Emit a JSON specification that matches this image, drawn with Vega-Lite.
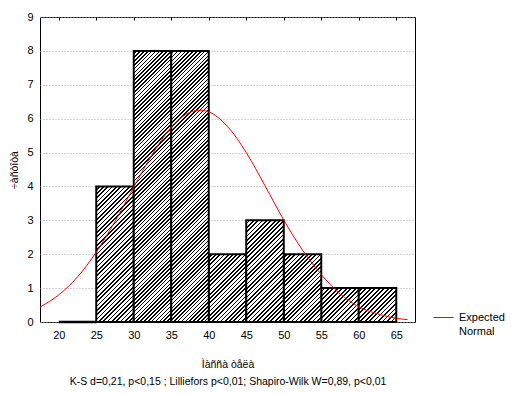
{
"$schema":"https://vega.github.io/schema/vega-lite/v6.json",
"width":375,"height":305,
"autosize":{"type":"none"},
"padding":{"left":40,"top":17,"right":96,"bottom":73},
"background":"white",
"config":{"view":{"stroke":"black","strokeWidth":1},"font":"Liberation Sans",
"axis":{"labelFont":"Liberation Sans","labelFontSize":11,"labelColor":"black","titleFont":"Liberation Sans","titleFontSize":10.5,"titleFontWeight":"normal","titleColor":"black"}},
"datasets":{
"bars":[{"lo":20,"hi":25,"n":0},{"lo":25,"hi":30,"n":4},{"lo":30,"hi":35,"n":8},{"lo":35,"hi":40,"n":8},{"lo":40,"hi":45,"n":2},{"lo":45,"hi":50,"n":3},{"lo":50,"hi":55,"n":2},{"lo":55,"hi":60,"n":1},{"lo":60,"hi":65,"n":1}],
"curve":[{"x":17.5,"y":0.44},{"x":20,"y":0.8},{"x":22.5,"y":1.33},{"x":25,"y":2.06},{"x":27.5,"y":2.97},{"x":30,"y":3.98},{"x":32.5,"y":4.96},{"x":35,"y":5.75},{"x":37.5,"y":6.19},{"x":38.8,"y":6.25},{"x":40,"y":6.2},{"x":42.5,"y":5.77},{"x":45,"y":5.0},{"x":47.5,"y":4.02},{"x":50,"y":3.01},{"x":52.5,"y":2.12},{"x":55,"y":1.4},{"x":57.5,"y":0.83},{"x":60,"y":0.45},{"x":62.5,"y":0.24},{"x":65,"y":0.11},{"x":66.5,"y":0.07}]
},
"resolve":{"axis":{"x":"independent"}},
"layer":[
{"data":{"name":"bars"},"transform":[{"filter":"datum.n == 0"}],
"mark":{"type":"bar","fill":"white","stroke":"black","strokeWidth":2.5},
"encoding":{
"x":{"field":"lo","type":"quantitative","scale":{"domain":[17.5,67.5],"nice":false,"zero":false},
"axis":{"orient":"bottom","values":[20,25,30,35,40,45,50,55,60,65],"ticks":false,"domain":false,"grid":false,"labelPadding":7,"title":["Ìàññà òåëà","K-S d=0,21, p<0,15 ; Lilliefors p<0,01; Shapiro-Wilk W=0,89, p<0,01"],"titleLineHeight":17,"titlePadding":19}},
"x2":{"field":"hi"},
"y":{"field":"n","type":"quantitative","scale":{"domain":[0,9],"nice":false},
"axis":{"orient":"left","values":[0,1,2,3,4,5,6,7,8,9],"grid":true,"gridColor":"#a8a8a8","gridDash":[1,2],"ticks":false,"domain":false,"labelPadding":7,"title":"÷àñòîòà","titlePadding":7,"titleColor":"black","encode":{"title":{"update":{"fill":{"value":"#000000"}}}}}},
"y2":{"datum":0}}},
{"data":{"name":"bars"},"transform":[{"filter":"datum.n == 1"}],
"mark":{"type":"bar","stroke":"black","strokeWidth":2,"fill":{"gradient":"linear","x1":0,"y1":0,"x2":1.0479,"y2":0.94699,"stops":[
{"offset":0,"color":"#fff"},{"offset":0.0375,"color":"#fff"},{"offset":0.0375,"color":"#000"},{"offset":0.0625,"color":"#000"},
{"offset":0.0625,"color":"#fff"},{"offset":0.1,"color":"#fff"},{"offset":0.1,"color":"#000"},{"offset":0.125,"color":"#000"},
{"offset":0.125,"color":"#fff"},{"offset":0.1625,"color":"#fff"},{"offset":0.1625,"color":"#000"},{"offset":0.1875,"color":"#000"},
{"offset":0.1875,"color":"#fff"},{"offset":0.225,"color":"#fff"},{"offset":0.225,"color":"#000"},{"offset":0.25,"color":"#000"},
{"offset":0.25,"color":"#fff"},{"offset":0.2875,"color":"#fff"},{"offset":0.2875,"color":"#000"},{"offset":0.3125,"color":"#000"},
{"offset":0.3125,"color":"#fff"},{"offset":0.35,"color":"#fff"},{"offset":0.35,"color":"#000"},{"offset":0.375,"color":"#000"},
{"offset":0.375,"color":"#fff"},{"offset":0.4125,"color":"#fff"},{"offset":0.4125,"color":"#000"},{"offset":0.4375,"color":"#000"},
{"offset":0.4375,"color":"#fff"},{"offset":0.475,"color":"#fff"},{"offset":0.475,"color":"#000"},{"offset":0.5,"color":"#000"},
{"offset":0.5,"color":"#fff"},{"offset":0.5375,"color":"#fff"},{"offset":0.5375,"color":"#000"},{"offset":0.5625,"color":"#000"},
{"offset":0.5625,"color":"#fff"},{"offset":0.6,"color":"#fff"},{"offset":0.6,"color":"#000"},{"offset":0.625,"color":"#000"},
{"offset":0.625,"color":"#fff"},{"offset":0.6625,"color":"#fff"},{"offset":0.6625,"color":"#000"},{"offset":0.6875,"color":"#000"},
{"offset":0.6875,"color":"#fff"},{"offset":0.725,"color":"#fff"},{"offset":0.725,"color":"#000"},{"offset":0.75,"color":"#000"},
{"offset":0.75,"color":"#fff"},{"offset":0.7875,"color":"#fff"},{"offset":0.7875,"color":"#000"},{"offset":0.8125,"color":"#000"},
{"offset":0.8125,"color":"#fff"},{"offset":0.85,"color":"#fff"},{"offset":0.85,"color":"#000"},{"offset":0.875,"color":"#000"},
{"offset":0.875,"color":"#fff"},{"offset":0.9125,"color":"#fff"},{"offset":0.9125,"color":"#000"},{"offset":0.9375,"color":"#000"},
{"offset":0.9375,"color":"#fff"},{"offset":0.975,"color":"#fff"},{"offset":0.975,"color":"#000"},{"offset":1,"color":"#000"}]}},
"encoding":{"x":{"field":"lo","type":"quantitative","axis":null},"x2":{"field":"hi"},"y":{"field":"n","type":"quantitative","axis":{"orient":"left","values":[0,1,2,3,4,5,6,7,8,9],"grid":true,"gridColor":"#a8a8a8","gridDash":[1,2],"ticks":false,"domain":false,"labelPadding":7,"title":"÷àñòîòà","titlePadding":7,"titleColor":"black","encode":{"title":{"update":{"fill":{"value":"#000000"}}}}}},"y2":{"datum":0}}},
{"data":{"name":"bars"},"transform":[{"filter":"datum.n == 2"}],
"mark":{"type":"bar","stroke":"black","strokeWidth":2,"fill":{"gradient":"linear","x1":0,"y1":0,"x2":0.657975,"y2":1.18924,"stops":[
{"offset":0,"color":"#fff"},{"offset":0.024,"color":"#fff"},{"offset":0.024,"color":"#000"},{"offset":0.04,"color":"#000"},
{"offset":0.04,"color":"#fff"},{"offset":0.064,"color":"#fff"},{"offset":0.064,"color":"#000"},{"offset":0.08,"color":"#000"},
{"offset":0.08,"color":"#fff"},{"offset":0.104,"color":"#fff"},{"offset":0.104,"color":"#000"},{"offset":0.12,"color":"#000"},
{"offset":0.12,"color":"#fff"},{"offset":0.144,"color":"#fff"},{"offset":0.144,"color":"#000"},{"offset":0.16,"color":"#000"},
{"offset":0.16,"color":"#fff"},{"offset":0.184,"color":"#fff"},{"offset":0.184,"color":"#000"},{"offset":0.2,"color":"#000"},
{"offset":0.2,"color":"#fff"},{"offset":0.224,"color":"#fff"},{"offset":0.224,"color":"#000"},{"offset":0.24,"color":"#000"},
{"offset":0.24,"color":"#fff"},{"offset":0.264,"color":"#fff"},{"offset":0.264,"color":"#000"},{"offset":0.28,"color":"#000"},
{"offset":0.28,"color":"#fff"},{"offset":0.304,"color":"#fff"},{"offset":0.304,"color":"#000"},{"offset":0.32,"color":"#000"},
{"offset":0.32,"color":"#fff"},{"offset":0.344,"color":"#fff"},{"offset":0.344,"color":"#000"},{"offset":0.36,"color":"#000"},
{"offset":0.36,"color":"#fff"},{"offset":0.384,"color":"#fff"},{"offset":0.384,"color":"#000"},{"offset":0.4,"color":"#000"},
{"offset":0.4,"color":"#fff"},{"offset":0.424,"color":"#fff"},{"offset":0.424,"color":"#000"},{"offset":0.44,"color":"#000"},
{"offset":0.44,"color":"#fff"},{"offset":0.464,"color":"#fff"},{"offset":0.464,"color":"#000"},{"offset":0.48,"color":"#000"},
{"offset":0.48,"color":"#fff"},{"offset":0.504,"color":"#fff"},{"offset":0.504,"color":"#000"},{"offset":0.52,"color":"#000"},
{"offset":0.52,"color":"#fff"},{"offset":0.544,"color":"#fff"},{"offset":0.544,"color":"#000"},{"offset":0.56,"color":"#000"},
{"offset":0.56,"color":"#fff"},{"offset":0.584,"color":"#fff"},{"offset":0.584,"color":"#000"},{"offset":0.6,"color":"#000"},
{"offset":0.6,"color":"#fff"},{"offset":0.624,"color":"#fff"},{"offset":0.624,"color":"#000"},{"offset":0.64,"color":"#000"},
{"offset":0.64,"color":"#fff"},{"offset":0.664,"color":"#fff"},{"offset":0.664,"color":"#000"},{"offset":0.68,"color":"#000"},
{"offset":0.68,"color":"#fff"},{"offset":0.704,"color":"#fff"},{"offset":0.704,"color":"#000"},{"offset":0.72,"color":"#000"},
{"offset":0.72,"color":"#fff"},{"offset":0.744,"color":"#fff"},{"offset":0.744,"color":"#000"},{"offset":0.76,"color":"#000"},
{"offset":0.76,"color":"#fff"},{"offset":0.784,"color":"#fff"},{"offset":0.784,"color":"#000"},{"offset":0.8,"color":"#000"},
{"offset":0.8,"color":"#fff"},{"offset":0.824,"color":"#fff"},{"offset":0.824,"color":"#000"},{"offset":0.84,"color":"#000"},
{"offset":0.84,"color":"#fff"},{"offset":0.864,"color":"#fff"},{"offset":0.864,"color":"#000"},{"offset":0.88,"color":"#000"},
{"offset":0.88,"color":"#fff"},{"offset":0.904,"color":"#fff"},{"offset":0.904,"color":"#000"},{"offset":0.92,"color":"#000"},
{"offset":0.92,"color":"#fff"},{"offset":0.944,"color":"#fff"},{"offset":0.944,"color":"#000"},{"offset":0.96,"color":"#000"},
{"offset":0.96,"color":"#fff"},{"offset":0.984,"color":"#fff"},{"offset":0.984,"color":"#000"},{"offset":1,"color":"#000"}]}},
"encoding":{"x":{"field":"lo","type":"quantitative","axis":null},"x2":{"field":"hi"},"y":{"field":"n","type":"quantitative","axis":{"orient":"left","values":[0,1,2,3,4,5,6,7,8,9],"grid":true,"gridColor":"#a8a8a8","gridDash":[1,2],"ticks":false,"domain":false,"labelPadding":7,"title":"÷àñòîòà","titlePadding":7,"titleColor":"black","encode":{"title":{"update":{"fill":{"value":"#000000"}}}}}},"y2":{"datum":0}}},
{"data":{"name":"bars"},"transform":[{"filter":"datum.n == 3"}],
"mark":{"type":"bar","stroke":"black","strokeWidth":2,"fill":{"gradient":"linear","x1":0,"y1":0,"x2":0.444441,"y2":1.204929,"stops":[
{"offset":0,"color":"#fff"},{"offset":0.01875,"color":"#fff"},{"offset":0.01875,"color":"#000"},{"offset":0.03125,"color":"#000"},
{"offset":0.03125,"color":"#fff"},{"offset":0.05,"color":"#fff"},{"offset":0.05,"color":"#000"},{"offset":0.0625,"color":"#000"},
{"offset":0.0625,"color":"#fff"},{"offset":0.08125,"color":"#fff"},{"offset":0.08125,"color":"#000"},{"offset":0.09375,"color":"#000"},
{"offset":0.09375,"color":"#fff"},{"offset":0.1125,"color":"#fff"},{"offset":0.1125,"color":"#000"},{"offset":0.125,"color":"#000"},
{"offset":0.125,"color":"#fff"},{"offset":0.14375,"color":"#fff"},{"offset":0.14375,"color":"#000"},{"offset":0.15625,"color":"#000"},
{"offset":0.15625,"color":"#fff"},{"offset":0.175,"color":"#fff"},{"offset":0.175,"color":"#000"},{"offset":0.1875,"color":"#000"},
{"offset":0.1875,"color":"#fff"},{"offset":0.20625,"color":"#fff"},{"offset":0.20625,"color":"#000"},{"offset":0.21875,"color":"#000"},
{"offset":0.21875,"color":"#fff"},{"offset":0.2375,"color":"#fff"},{"offset":0.2375,"color":"#000"},{"offset":0.25,"color":"#000"},
{"offset":0.25,"color":"#fff"},{"offset":0.26875,"color":"#fff"},{"offset":0.26875,"color":"#000"},{"offset":0.28125,"color":"#000"},
{"offset":0.28125,"color":"#fff"},{"offset":0.3,"color":"#fff"},{"offset":0.3,"color":"#000"},{"offset":0.3125,"color":"#000"},
{"offset":0.3125,"color":"#fff"},{"offset":0.33125,"color":"#fff"},{"offset":0.33125,"color":"#000"},{"offset":0.34375,"color":"#000"},
{"offset":0.34375,"color":"#fff"},{"offset":0.3625,"color":"#fff"},{"offset":0.3625,"color":"#000"},{"offset":0.375,"color":"#000"},
{"offset":0.375,"color":"#fff"},{"offset":0.39375,"color":"#fff"},{"offset":0.39375,"color":"#000"},{"offset":0.40625,"color":"#000"},
{"offset":0.40625,"color":"#fff"},{"offset":0.425,"color":"#fff"},{"offset":0.425,"color":"#000"},{"offset":0.4375,"color":"#000"},
{"offset":0.4375,"color":"#fff"},{"offset":0.45625,"color":"#fff"},{"offset":0.45625,"color":"#000"},{"offset":0.46875,"color":"#000"},
{"offset":0.46875,"color":"#fff"},{"offset":0.4875,"color":"#fff"},{"offset":0.4875,"color":"#000"},{"offset":0.5,"color":"#000"},
{"offset":0.5,"color":"#fff"},{"offset":0.51875,"color":"#fff"},{"offset":0.51875,"color":"#000"},{"offset":0.53125,"color":"#000"},
{"offset":0.53125,"color":"#fff"},{"offset":0.55,"color":"#fff"},{"offset":0.55,"color":"#000"},{"offset":0.5625,"color":"#000"},
{"offset":0.5625,"color":"#fff"},{"offset":0.58125,"color":"#fff"},{"offset":0.58125,"color":"#000"},{"offset":0.59375,"color":"#000"},
{"offset":0.59375,"color":"#fff"},{"offset":0.6125,"color":"#fff"},{"offset":0.6125,"color":"#000"},{"offset":0.625,"color":"#000"},
{"offset":0.625,"color":"#fff"},{"offset":0.64375,"color":"#fff"},{"offset":0.64375,"color":"#000"},{"offset":0.65625,"color":"#000"},
{"offset":0.65625,"color":"#fff"},{"offset":0.675,"color":"#fff"},{"offset":0.675,"color":"#000"},{"offset":0.6875,"color":"#000"},
{"offset":0.6875,"color":"#fff"},{"offset":0.70625,"color":"#fff"},{"offset":0.70625,"color":"#000"},{"offset":0.71875,"color":"#000"},
{"offset":0.71875,"color":"#fff"},{"offset":0.7375,"color":"#fff"},{"offset":0.7375,"color":"#000"},{"offset":0.75,"color":"#000"},
{"offset":0.75,"color":"#fff"},{"offset":0.76875,"color":"#fff"},{"offset":0.76875,"color":"#000"},{"offset":0.78125,"color":"#000"},
{"offset":0.78125,"color":"#fff"},{"offset":0.8,"color":"#fff"},{"offset":0.8,"color":"#000"},{"offset":0.8125,"color":"#000"},
{"offset":0.8125,"color":"#fff"},{"offset":0.83125,"color":"#fff"},{"offset":0.83125,"color":"#000"},{"offset":0.84375,"color":"#000"},
{"offset":0.84375,"color":"#fff"},{"offset":0.8625,"color":"#fff"},{"offset":0.8625,"color":"#000"},{"offset":0.875,"color":"#000"},
{"offset":0.875,"color":"#fff"},{"offset":0.89375,"color":"#fff"},{"offset":0.89375,"color":"#000"},{"offset":0.90625,"color":"#000"},
{"offset":0.90625,"color":"#fff"},{"offset":0.925,"color":"#fff"},{"offset":0.925,"color":"#000"},{"offset":0.9375,"color":"#000"},
{"offset":0.9375,"color":"#fff"},{"offset":0.95625,"color":"#fff"},{"offset":0.95625,"color":"#000"},{"offset":0.96875,"color":"#000"},
{"offset":0.96875,"color":"#fff"},{"offset":0.9875,"color":"#fff"},{"offset":0.9875,"color":"#000"},{"offset":1,"color":"#000"}]}},
"encoding":{"x":{"field":"lo","type":"quantitative","axis":null},"x2":{"field":"hi"},"y":{"field":"n","type":"quantitative","axis":{"orient":"left","values":[0,1,2,3,4,5,6,7,8,9],"grid":true,"gridColor":"#a8a8a8","gridDash":[1,2],"ticks":false,"domain":false,"labelPadding":7,"title":"÷àñòîòà","titlePadding":7,"titleColor":"black","encode":{"title":{"update":{"fill":{"value":"#000000"}}}}}},"y2":{"datum":0}}},
{"data":{"name":"bars"},"transform":[{"filter":"datum.n == 4"}],
"mark":{"type":"bar","stroke":"black","strokeWidth":2,"fill":{"gradient":"linear","x1":0,"y1":0,"x2":0.328062,"y2":1.185883,"stops":[
{"offset":0,"color":"#fff"},{"offset":0.015,"color":"#fff"},{"offset":0.015,"color":"#000"},{"offset":0.025,"color":"#000"},
{"offset":0.025,"color":"#fff"},{"offset":0.04,"color":"#fff"},{"offset":0.04,"color":"#000"},{"offset":0.05,"color":"#000"},
{"offset":0.05,"color":"#fff"},{"offset":0.065,"color":"#fff"},{"offset":0.065,"color":"#000"},{"offset":0.075,"color":"#000"},
{"offset":0.075,"color":"#fff"},{"offset":0.09,"color":"#fff"},{"offset":0.09,"color":"#000"},{"offset":0.1,"color":"#000"},
{"offset":0.1,"color":"#fff"},{"offset":0.115,"color":"#fff"},{"offset":0.115,"color":"#000"},{"offset":0.125,"color":"#000"},
{"offset":0.125,"color":"#fff"},{"offset":0.14,"color":"#fff"},{"offset":0.14,"color":"#000"},{"offset":0.15,"color":"#000"},
{"offset":0.15,"color":"#fff"},{"offset":0.165,"color":"#fff"},{"offset":0.165,"color":"#000"},{"offset":0.175,"color":"#000"},
{"offset":0.175,"color":"#fff"},{"offset":0.19,"color":"#fff"},{"offset":0.19,"color":"#000"},{"offset":0.2,"color":"#000"},
{"offset":0.2,"color":"#fff"},{"offset":0.215,"color":"#fff"},{"offset":0.215,"color":"#000"},{"offset":0.225,"color":"#000"},
{"offset":0.225,"color":"#fff"},{"offset":0.24,"color":"#fff"},{"offset":0.24,"color":"#000"},{"offset":0.25,"color":"#000"},
{"offset":0.25,"color":"#fff"},{"offset":0.265,"color":"#fff"},{"offset":0.265,"color":"#000"},{"offset":0.275,"color":"#000"},
{"offset":0.275,"color":"#fff"},{"offset":0.29,"color":"#fff"},{"offset":0.29,"color":"#000"},{"offset":0.3,"color":"#000"},
{"offset":0.3,"color":"#fff"},{"offset":0.315,"color":"#fff"},{"offset":0.315,"color":"#000"},{"offset":0.325,"color":"#000"},
{"offset":0.325,"color":"#fff"},{"offset":0.34,"color":"#fff"},{"offset":0.34,"color":"#000"},{"offset":0.35,"color":"#000"},
{"offset":0.35,"color":"#fff"},{"offset":0.365,"color":"#fff"},{"offset":0.365,"color":"#000"},{"offset":0.375,"color":"#000"},
{"offset":0.375,"color":"#fff"},{"offset":0.39,"color":"#fff"},{"offset":0.39,"color":"#000"},{"offset":0.4,"color":"#000"},
{"offset":0.4,"color":"#fff"},{"offset":0.415,"color":"#fff"},{"offset":0.415,"color":"#000"},{"offset":0.425,"color":"#000"},
{"offset":0.425,"color":"#fff"},{"offset":0.44,"color":"#fff"},{"offset":0.44,"color":"#000"},{"offset":0.45,"color":"#000"},
{"offset":0.45,"color":"#fff"},{"offset":0.465,"color":"#fff"},{"offset":0.465,"color":"#000"},{"offset":0.475,"color":"#000"},
{"offset":0.475,"color":"#fff"},{"offset":0.49,"color":"#fff"},{"offset":0.49,"color":"#000"},{"offset":0.5,"color":"#000"},
{"offset":0.5,"color":"#fff"},{"offset":0.515,"color":"#fff"},{"offset":0.515,"color":"#000"},{"offset":0.525,"color":"#000"},
{"offset":0.525,"color":"#fff"},{"offset":0.54,"color":"#fff"},{"offset":0.54,"color":"#000"},{"offset":0.55,"color":"#000"},
{"offset":0.55,"color":"#fff"},{"offset":0.565,"color":"#fff"},{"offset":0.565,"color":"#000"},{"offset":0.575,"color":"#000"},
{"offset":0.575,"color":"#fff"},{"offset":0.59,"color":"#fff"},{"offset":0.59,"color":"#000"},{"offset":0.6,"color":"#000"},
{"offset":0.6,"color":"#fff"},{"offset":0.615,"color":"#fff"},{"offset":0.615,"color":"#000"},{"offset":0.625,"color":"#000"},
{"offset":0.625,"color":"#fff"},{"offset":0.64,"color":"#fff"},{"offset":0.64,"color":"#000"},{"offset":0.65,"color":"#000"},
{"offset":0.65,"color":"#fff"},{"offset":0.665,"color":"#fff"},{"offset":0.665,"color":"#000"},{"offset":0.675,"color":"#000"},
{"offset":0.675,"color":"#fff"},{"offset":0.69,"color":"#fff"},{"offset":0.69,"color":"#000"},{"offset":0.7,"color":"#000"},
{"offset":0.7,"color":"#fff"},{"offset":0.715,"color":"#fff"},{"offset":0.715,"color":"#000"},{"offset":0.725,"color":"#000"},
{"offset":0.725,"color":"#fff"},{"offset":0.74,"color":"#fff"},{"offset":0.74,"color":"#000"},{"offset":0.75,"color":"#000"},
{"offset":0.75,"color":"#fff"},{"offset":0.765,"color":"#fff"},{"offset":0.765,"color":"#000"},{"offset":0.775,"color":"#000"},
{"offset":0.775,"color":"#fff"},{"offset":0.79,"color":"#fff"},{"offset":0.79,"color":"#000"},{"offset":0.8,"color":"#000"},
{"offset":0.8,"color":"#fff"},{"offset":0.815,"color":"#fff"},{"offset":0.815,"color":"#000"},{"offset":0.825,"color":"#000"},
{"offset":0.825,"color":"#fff"},{"offset":0.84,"color":"#fff"},{"offset":0.84,"color":"#000"},{"offset":0.85,"color":"#000"},
{"offset":0.85,"color":"#fff"},{"offset":0.865,"color":"#fff"},{"offset":0.865,"color":"#000"},{"offset":0.875,"color":"#000"},
{"offset":0.875,"color":"#fff"},{"offset":0.89,"color":"#fff"},{"offset":0.89,"color":"#000"},{"offset":0.9,"color":"#000"},
{"offset":0.9,"color":"#fff"},{"offset":0.915,"color":"#fff"},{"offset":0.915,"color":"#000"},{"offset":0.925,"color":"#000"},
{"offset":0.925,"color":"#fff"},{"offset":0.94,"color":"#fff"},{"offset":0.94,"color":"#000"},{"offset":0.95,"color":"#000"},
{"offset":0.95,"color":"#fff"},{"offset":0.965,"color":"#fff"},{"offset":0.965,"color":"#000"},{"offset":0.975,"color":"#000"},
{"offset":0.975,"color":"#fff"},{"offset":0.99,"color":"#fff"},{"offset":0.99,"color":"#000"},{"offset":1,"color":"#000"}]}},
"encoding":{"x":{"field":"lo","type":"quantitative","axis":null},"x2":{"field":"hi"},"y":{"field":"n","type":"quantitative","axis":{"orient":"left","values":[0,1,2,3,4,5,6,7,8,9],"grid":true,"gridColor":"#a8a8a8","gridDash":[1,2],"ticks":false,"domain":false,"labelPadding":7,"title":"÷àñòîòà","titlePadding":7,"titleColor":"black","encode":{"title":{"update":{"fill":{"value":"#000000"}}}}}},"y2":{"datum":0}}},
{"data":{"name":"bars"},"transform":[{"filter":"datum.n == 8"}],
"mark":{"type":"bar","stroke":"black","strokeWidth":2,"fill":{"gradient":"linear","x1":0,"y1":0,"x2":0.154496,"y2":1.11695,"stops":[
{"offset":0,"color":"#fff"},{"offset":0.0075,"color":"#fff"},{"offset":0.0075,"color":"#000"},{"offset":0.0125,"color":"#000"},
{"offset":0.0125,"color":"#fff"},{"offset":0.02,"color":"#fff"},{"offset":0.02,"color":"#000"},{"offset":0.025,"color":"#000"},
{"offset":0.025,"color":"#fff"},{"offset":0.0325,"color":"#fff"},{"offset":0.0325,"color":"#000"},{"offset":0.0375,"color":"#000"},
{"offset":0.0375,"color":"#fff"},{"offset":0.045,"color":"#fff"},{"offset":0.045,"color":"#000"},{"offset":0.05,"color":"#000"},
{"offset":0.05,"color":"#fff"},{"offset":0.0575,"color":"#fff"},{"offset":0.0575,"color":"#000"},{"offset":0.0625,"color":"#000"},
{"offset":0.0625,"color":"#fff"},{"offset":0.07,"color":"#fff"},{"offset":0.07,"color":"#000"},{"offset":0.075,"color":"#000"},
{"offset":0.075,"color":"#fff"},{"offset":0.0825,"color":"#fff"},{"offset":0.0825,"color":"#000"},{"offset":0.0875,"color":"#000"},
{"offset":0.0875,"color":"#fff"},{"offset":0.095,"color":"#fff"},{"offset":0.095,"color":"#000"},{"offset":0.1,"color":"#000"},
{"offset":0.1,"color":"#fff"},{"offset":0.1075,"color":"#fff"},{"offset":0.1075,"color":"#000"},{"offset":0.1125,"color":"#000"},
{"offset":0.1125,"color":"#fff"},{"offset":0.12,"color":"#fff"},{"offset":0.12,"color":"#000"},{"offset":0.125,"color":"#000"},
{"offset":0.125,"color":"#fff"},{"offset":0.1325,"color":"#fff"},{"offset":0.1325,"color":"#000"},{"offset":0.1375,"color":"#000"},
{"offset":0.1375,"color":"#fff"},{"offset":0.145,"color":"#fff"},{"offset":0.145,"color":"#000"},{"offset":0.15,"color":"#000"},
{"offset":0.15,"color":"#fff"},{"offset":0.1575,"color":"#fff"},{"offset":0.1575,"color":"#000"},{"offset":0.1625,"color":"#000"},
{"offset":0.1625,"color":"#fff"},{"offset":0.17,"color":"#fff"},{"offset":0.17,"color":"#000"},{"offset":0.175,"color":"#000"},
{"offset":0.175,"color":"#fff"},{"offset":0.1825,"color":"#fff"},{"offset":0.1825,"color":"#000"},{"offset":0.1875,"color":"#000"},
{"offset":0.1875,"color":"#fff"},{"offset":0.195,"color":"#fff"},{"offset":0.195,"color":"#000"},{"offset":0.2,"color":"#000"},
{"offset":0.2,"color":"#fff"},{"offset":0.2075,"color":"#fff"},{"offset":0.2075,"color":"#000"},{"offset":0.2125,"color":"#000"},
{"offset":0.2125,"color":"#fff"},{"offset":0.22,"color":"#fff"},{"offset":0.22,"color":"#000"},{"offset":0.225,"color":"#000"},
{"offset":0.225,"color":"#fff"},{"offset":0.2325,"color":"#fff"},{"offset":0.2325,"color":"#000"},{"offset":0.2375,"color":"#000"},
{"offset":0.2375,"color":"#fff"},{"offset":0.245,"color":"#fff"},{"offset":0.245,"color":"#000"},{"offset":0.25,"color":"#000"},
{"offset":0.25,"color":"#fff"},{"offset":0.2575,"color":"#fff"},{"offset":0.2575,"color":"#000"},{"offset":0.2625,"color":"#000"},
{"offset":0.2625,"color":"#fff"},{"offset":0.27,"color":"#fff"},{"offset":0.27,"color":"#000"},{"offset":0.275,"color":"#000"},
{"offset":0.275,"color":"#fff"},{"offset":0.2825,"color":"#fff"},{"offset":0.2825,"color":"#000"},{"offset":0.2875,"color":"#000"},
{"offset":0.2875,"color":"#fff"},{"offset":0.295,"color":"#fff"},{"offset":0.295,"color":"#000"},{"offset":0.3,"color":"#000"},
{"offset":0.3,"color":"#fff"},{"offset":0.3075,"color":"#fff"},{"offset":0.3075,"color":"#000"},{"offset":0.3125,"color":"#000"},
{"offset":0.3125,"color":"#fff"},{"offset":0.32,"color":"#fff"},{"offset":0.32,"color":"#000"},{"offset":0.325,"color":"#000"},
{"offset":0.325,"color":"#fff"},{"offset":0.3325,"color":"#fff"},{"offset":0.3325,"color":"#000"},{"offset":0.3375,"color":"#000"},
{"offset":0.3375,"color":"#fff"},{"offset":0.345,"color":"#fff"},{"offset":0.345,"color":"#000"},{"offset":0.35,"color":"#000"},
{"offset":0.35,"color":"#fff"},{"offset":0.3575,"color":"#fff"},{"offset":0.3575,"color":"#000"},{"offset":0.3625,"color":"#000"},
{"offset":0.3625,"color":"#fff"},{"offset":0.37,"color":"#fff"},{"offset":0.37,"color":"#000"},{"offset":0.375,"color":"#000"},
{"offset":0.375,"color":"#fff"},{"offset":0.3825,"color":"#fff"},{"offset":0.3825,"color":"#000"},{"offset":0.3875,"color":"#000"},
{"offset":0.3875,"color":"#fff"},{"offset":0.395,"color":"#fff"},{"offset":0.395,"color":"#000"},{"offset":0.4,"color":"#000"},
{"offset":0.4,"color":"#fff"},{"offset":0.4075,"color":"#fff"},{"offset":0.4075,"color":"#000"},{"offset":0.4125,"color":"#000"},
{"offset":0.4125,"color":"#fff"},{"offset":0.42,"color":"#fff"},{"offset":0.42,"color":"#000"},{"offset":0.425,"color":"#000"},
{"offset":0.425,"color":"#fff"},{"offset":0.4325,"color":"#fff"},{"offset":0.4325,"color":"#000"},{"offset":0.4375,"color":"#000"},
{"offset":0.4375,"color":"#fff"},{"offset":0.445,"color":"#fff"},{"offset":0.445,"color":"#000"},{"offset":0.45,"color":"#000"},
{"offset":0.45,"color":"#fff"},{"offset":0.4575,"color":"#fff"},{"offset":0.4575,"color":"#000"},{"offset":0.4625,"color":"#000"},
{"offset":0.4625,"color":"#fff"},{"offset":0.47,"color":"#fff"},{"offset":0.47,"color":"#000"},{"offset":0.475,"color":"#000"},
{"offset":0.475,"color":"#fff"},{"offset":0.4825,"color":"#fff"},{"offset":0.4825,"color":"#000"},{"offset":0.4875,"color":"#000"},
{"offset":0.4875,"color":"#fff"},{"offset":0.495,"color":"#fff"},{"offset":0.495,"color":"#000"},{"offset":0.5,"color":"#000"},
{"offset":0.5,"color":"#fff"},{"offset":0.5075,"color":"#fff"},{"offset":0.5075,"color":"#000"},{"offset":0.5125,"color":"#000"},
{"offset":0.5125,"color":"#fff"},{"offset":0.52,"color":"#fff"},{"offset":0.52,"color":"#000"},{"offset":0.525,"color":"#000"},
{"offset":0.525,"color":"#fff"},{"offset":0.5325,"color":"#fff"},{"offset":0.5325,"color":"#000"},{"offset":0.5375,"color":"#000"},
{"offset":0.5375,"color":"#fff"},{"offset":0.545,"color":"#fff"},{"offset":0.545,"color":"#000"},{"offset":0.55,"color":"#000"},
{"offset":0.55,"color":"#fff"},{"offset":0.5575,"color":"#fff"},{"offset":0.5575,"color":"#000"},{"offset":0.5625,"color":"#000"},
{"offset":0.5625,"color":"#fff"},{"offset":0.57,"color":"#fff"},{"offset":0.57,"color":"#000"},{"offset":0.575,"color":"#000"},
{"offset":0.575,"color":"#fff"},{"offset":0.5825,"color":"#fff"},{"offset":0.5825,"color":"#000"},{"offset":0.5875,"color":"#000"},
{"offset":0.5875,"color":"#fff"},{"offset":0.595,"color":"#fff"},{"offset":0.595,"color":"#000"},{"offset":0.6,"color":"#000"},
{"offset":0.6,"color":"#fff"},{"offset":0.6075,"color":"#fff"},{"offset":0.6075,"color":"#000"},{"offset":0.6125,"color":"#000"},
{"offset":0.6125,"color":"#fff"},{"offset":0.62,"color":"#fff"},{"offset":0.62,"color":"#000"},{"offset":0.625,"color":"#000"},
{"offset":0.625,"color":"#fff"},{"offset":0.6325,"color":"#fff"},{"offset":0.6325,"color":"#000"},{"offset":0.6375,"color":"#000"},
{"offset":0.6375,"color":"#fff"},{"offset":0.645,"color":"#fff"},{"offset":0.645,"color":"#000"},{"offset":0.65,"color":"#000"},
{"offset":0.65,"color":"#fff"},{"offset":0.6575,"color":"#fff"},{"offset":0.6575,"color":"#000"},{"offset":0.6625,"color":"#000"},
{"offset":0.6625,"color":"#fff"},{"offset":0.67,"color":"#fff"},{"offset":0.67,"color":"#000"},{"offset":0.675,"color":"#000"},
{"offset":0.675,"color":"#fff"},{"offset":0.6825,"color":"#fff"},{"offset":0.6825,"color":"#000"},{"offset":0.6875,"color":"#000"},
{"offset":0.6875,"color":"#fff"},{"offset":0.695,"color":"#fff"},{"offset":0.695,"color":"#000"},{"offset":0.7,"color":"#000"},
{"offset":0.7,"color":"#fff"},{"offset":0.7075,"color":"#fff"},{"offset":0.7075,"color":"#000"},{"offset":0.7125,"color":"#000"},
{"offset":0.7125,"color":"#fff"},{"offset":0.72,"color":"#fff"},{"offset":0.72,"color":"#000"},{"offset":0.725,"color":"#000"},
{"offset":0.725,"color":"#fff"},{"offset":0.7325,"color":"#fff"},{"offset":0.7325,"color":"#000"},{"offset":0.7375,"color":"#000"},
{"offset":0.7375,"color":"#fff"},{"offset":0.745,"color":"#fff"},{"offset":0.745,"color":"#000"},{"offset":0.75,"color":"#000"},
{"offset":0.75,"color":"#fff"},{"offset":0.7575,"color":"#fff"},{"offset":0.7575,"color":"#000"},{"offset":0.7625,"color":"#000"},
{"offset":0.7625,"color":"#fff"},{"offset":0.77,"color":"#fff"},{"offset":0.77,"color":"#000"},{"offset":0.775,"color":"#000"},
{"offset":0.775,"color":"#fff"},{"offset":0.7825,"color":"#fff"},{"offset":0.7825,"color":"#000"},{"offset":0.7875,"color":"#000"},
{"offset":0.7875,"color":"#fff"},{"offset":0.795,"color":"#fff"},{"offset":0.795,"color":"#000"},{"offset":0.8,"color":"#000"},
{"offset":0.8,"color":"#fff"},{"offset":0.8075,"color":"#fff"},{"offset":0.8075,"color":"#000"},{"offset":0.8125,"color":"#000"},
{"offset":0.8125,"color":"#fff"},{"offset":0.82,"color":"#fff"},{"offset":0.82,"color":"#000"},{"offset":0.825,"color":"#000"},
{"offset":0.825,"color":"#fff"},{"offset":0.8325,"color":"#fff"},{"offset":0.8325,"color":"#000"},{"offset":0.8375,"color":"#000"},
{"offset":0.8375,"color":"#fff"},{"offset":0.845,"color":"#fff"},{"offset":0.845,"color":"#000"},{"offset":0.85,"color":"#000"},
{"offset":0.85,"color":"#fff"},{"offset":0.8575,"color":"#fff"},{"offset":0.8575,"color":"#000"},{"offset":0.8625,"color":"#000"},
{"offset":0.8625,"color":"#fff"},{"offset":0.87,"color":"#fff"},{"offset":0.87,"color":"#000"},{"offset":0.875,"color":"#000"},
{"offset":0.875,"color":"#fff"},{"offset":0.8825,"color":"#fff"},{"offset":0.8825,"color":"#000"},{"offset":0.8875,"color":"#000"},
{"offset":0.8875,"color":"#fff"},{"offset":0.895,"color":"#fff"},{"offset":0.895,"color":"#000"},{"offset":0.9,"color":"#000"},
{"offset":0.9,"color":"#fff"},{"offset":0.9075,"color":"#fff"},{"offset":0.9075,"color":"#000"},{"offset":0.9125,"color":"#000"},
{"offset":0.9125,"color":"#fff"},{"offset":0.92,"color":"#fff"},{"offset":0.92,"color":"#000"},{"offset":0.925,"color":"#000"},
{"offset":0.925,"color":"#fff"},{"offset":0.9325,"color":"#fff"},{"offset":0.9325,"color":"#000"},{"offset":0.9375,"color":"#000"},
{"offset":0.9375,"color":"#fff"},{"offset":0.945,"color":"#fff"},{"offset":0.945,"color":"#000"},{"offset":0.95,"color":"#000"},
{"offset":0.95,"color":"#fff"},{"offset":0.9575,"color":"#fff"},{"offset":0.9575,"color":"#000"},{"offset":0.9625,"color":"#000"},
{"offset":0.9625,"color":"#fff"},{"offset":0.97,"color":"#fff"},{"offset":0.97,"color":"#000"},{"offset":0.975,"color":"#000"},
{"offset":0.975,"color":"#fff"},{"offset":0.9825,"color":"#fff"},{"offset":0.9825,"color":"#000"},{"offset":0.9875,"color":"#000"},
{"offset":0.9875,"color":"#fff"},{"offset":0.995,"color":"#fff"},{"offset":0.995,"color":"#000"},{"offset":1,"color":"#000"}]}},
"encoding":{"x":{"field":"lo","type":"quantitative","axis":null},"x2":{"field":"hi"},"y":{"field":"n","type":"quantitative","axis":{"orient":"left","values":[0,1,2,3,4,5,6,7,8,9],"grid":true,"gridColor":"#a8a8a8","gridDash":[1,2],"ticks":false,"domain":false,"labelPadding":7,"title":"÷àñòîòà","titlePadding":7,"titleColor":"black","encode":{"title":{"update":{"fill":{"value":"#000000"}}}}}},"y2":{"datum":0}}},
{"data":{"name":"curve"},
"mark":{"type":"line","strokeWidth":1,"interpolate":"monotone"},
"encoding":{
"x":{"field":"x","type":"quantitative","axis":{"orient":"top","values":[20,25,30,35,40,45,50,55,60,65],"labels":false,"domain":false,"grid":false,"ticks":true,"tickSize":-3,"tickColor":"black","tickWidth":1,"title":null,"zindex":2}},
"y":{"field":"y","type":"quantitative","axis":{"orient":"left","values":[0,1,2,3,4,5,6,7,8,9],"grid":true,"gridColor":"#a8a8a8","gridDash":[1,2],"ticks":false,"domain":false,"labelPadding":7,"title":"÷àñòîòà","titlePadding":7,"titleColor":"black","encode":{"title":{"update":{"fill":{"value":"#000000"}}}}}},
"stroke":{"datum":"Expected Normal","type":"nominal","scale":{"range":["#ff0000"]},
"legend":{"orient":"none","legendX":393,"legendY":290,"title":null,"padding":0,"symbolType":"stroke","symbolSize":400,"symbolStrokeWidth":1,"labelExpr":"['Expected','Normal']","labelFont":"Liberation Sans","labelFontSize":11,"labelColor":"black","labelOffset":5,"labelLimit":0,"labelBaseline":"middle","encode":{"labels":{"update":{"lineHeight":{"value":14}}}}}}}}
]
}
